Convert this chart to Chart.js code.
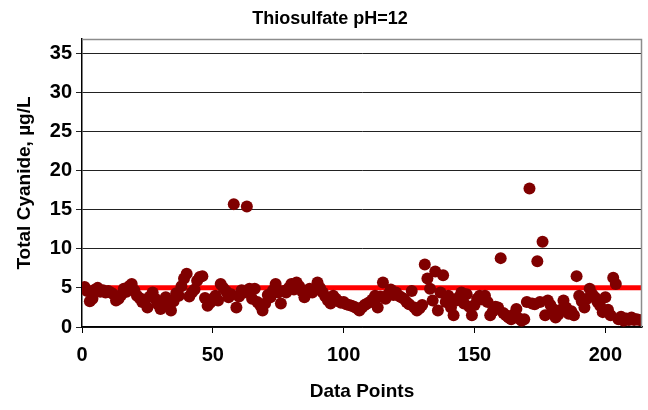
<!DOCTYPE html>
<html>
<head>
<meta charset="utf-8">
<script src="https://cdn.jsdelivr.net/npm/chart.js@4/dist/chart.umd.min.js"></script>
<style>
html,body{margin:0;padding:0;background:#fff;}
#wrap{width:648px;height:410px;position:relative;}
</style>
</head>
<body>
<div id="wrap"><canvas id="c" width="648" height="410"></canvas></div>
<script>
const titleText = "Thiosulfate pH=12";
const xTitle = "Data Points";
const yTitle = "Total Cyanide, µg/L";

const cyanide = [
  5.1, 4.6, 3.3, 3.6, 4.8, 5.0, 4.5, 4.7, 4.4, 4.6,
  4.4, 4.2, 3.4, 3.6, 4.1, 4.9, 4.5, 5.2, 5.5, 4.7,
  4.0, 3.7, 3.2, 3.5, 2.5, 3.9, 4.4, 3.6, 2.9, 2.3,
  3.0, 3.8, 2.6, 2.1, 3.3, 4.3, 4.0, 5.2, 6.2, 6.8,
  3.9, 4.4, 4.8, 5.9, 6.4, 6.5, 3.7, 2.7, 3.1, 3.6,
  4.0, 3.4, 5.5, 5.0, 4.6, 3.8, 4.2, 15.7, 2.5, 3.9,
  4.7, 4.4, 15.4, 4.9, 3.6, 4.9, 3.2, 2.8, 2.1, 3.0,
  4.1, 3.8, 4.7, 5.5, 4.4, 3.0, 4.6, 4.4, 5.0, 5.5,
  4.8, 5.7, 5.2, 4.6, 3.8, 4.3, 4.9, 4.4, 4.8, 5.7,
  5.0, 4.4, 3.9, 3.4, 3.0, 4.0, 3.6, 3.3, 3.1, 3.2,
  2.9, 2.8, 2.7, 2.6, 2.4, 2.1, 2.5, 2.8, 3.0, 3.2,
  3.5, 4.0, 2.5, 3.9, 5.7, 3.6, 4.2, 4.8, 4.1, 4.4,
  4.0, 3.8, 3.6, 3.2, 2.9, 4.6, 2.5, 2.1, 2.4, 2.8,
  8.0, 6.2, 4.9, 3.4, 7.1, 2.1, 4.4, 6.6, 3.2, 4.0,
  2.5, 1.5, 3.4, 3.8, 4.4, 3.0, 4.2, 2.6, 1.5, 2.8,
  3.6, 4.0, 3.5, 4.0, 3.2, 1.5, 2.0, 2.6, 2.5, 8.8,
  1.8, 1.5, 1.2, 1.0, 1.6, 2.3, 1.1, 0.8, 1.0, 3.2,
  17.7, 3.0, 2.9, 8.4, 3.2, 10.9, 1.5, 3.4, 2.8, 2.3,
  1.2, 1.6, 2.2, 3.4, 2.5, 1.7, 2.0, 1.5, 6.5, 4.0,
  3.3, 2.5, 3.6, 4.9, 4.2, 3.8, 3.2, 2.7, 1.9, 3.8,
  2.2, 1.5, 6.3, 5.5, 1.0, 1.3, 0.8, 1.1, 0.9, 1.2,
  0.9, 1.0, 0.9
];
const pointIndex = cyanide.map((v, i) => i + 1);
const limitX = [0, 214];
const limitY = [5, 5];
const xTicks = [0, 50, 100, 150, 200];
const yTicks = [0, 5, 10, 15, 20, 25, 30, 35];

const FONT = "'Liberation Sans', Arial, sans-serif";

const framePlugin = {
  id: 'frame',
  afterDraw(chart) {
    const a = chart.chartArea, ctx = chart.ctx;
    ctx.save();
    ctx.strokeStyle = '#8c8c8c';
    ctx.lineWidth = 1.5;
    ctx.beginPath();
    ctx.moveTo(a.left, a.top + 0.5);
    ctx.lineTo(a.right - 0.5, a.top + 0.5);
    ctx.lineTo(a.right - 0.5, a.bottom);
    ctx.stroke();
    ctx.fillStyle = '#000';
    ctx.font = "bold 18px " + FONT;
    ctx.textAlign = 'center';
    ctx.textBaseline = 'middle';
    ctx.fillText(titleText, 330, 19);
    ctx.restore();
  }
};

new Chart(document.getElementById('c'), {
  data: {
    datasets: [
      {
        type: 'scatter',
        data: pointIndex.map((x, i) => ({x: x, y: cyanide[i]})),
        backgroundColor: '#800000',
        borderColor: '#800000',
        borderWidth: 0,
        pointRadius: 6,
        order: 1
      },
      {
        type: 'line',
        data: limitX.map((x, i) => ({x: x, y: limitY[i]})),
        borderColor: '#ff0000',
        borderWidth: 5,
        pointRadius: 0,
        fill: false,
        order: 2
      }
    ]
  },
  options: {
    responsive: false,
    animation: false,
    events: [],
    layout: {padding: {left: 0, right: 3, top: 39, bottom: 0}},
    plugins: {
      legend: {display: false},
      tooltip: {enabled: false},
      title: {display: false}
    },
    scales: {
      x: {
        type: 'linear',
        min: 0,
        max: limitX[1],
        afterBuildTicks: s => { s.ticks = xTicks.map(v => ({value: v})); },
        afterFit: s => { s.height = 83; },
        ticks: {
          color: '#000',
          font: {family: FONT, size: 20, weight: 'bold'},
          padding: 10,
          maxRotation: 0
        },
        grid: {display: true, drawOnChartArea: false, drawTicks: true, tickLength: 6, color: '#000'},
        border: {display: true, color: '#000', width: 1.5},
        title: {
          display: true,
          text: xTitle,
          color: '#000',
          font: {family: FONT, size: 19, weight: 'bold'},
          padding: {top: 0, bottom: 7}
        }
      },
      y: {
        type: 'linear',
        min: 0,
        max: 36.8,
        afterBuildTicks: s => { s.ticks = yTicks.map(v => ({value: v})); },
        afterFit: s => { s.width = 82; },
        ticks: {
          color: '#000',
          font: {family: FONT, size: 20, weight: 'bold'},
          padding: 4
        },
        grid: {display: true, drawOnChartArea: true, drawTicks: true, tickLength: 6, color: '#222', lineWidth: 1},
        border: {display: true, color: '#000', width: 1.5},
        title: {
          display: true,
          text: yTitle,
          color: '#000',
          font: {family: FONT, size: 19, weight: 'bold'},
          padding: {top: 13, bottom: 0}
        }
      }
    }
  },
  plugins: [framePlugin]
});
</script>
</body>
</html>
